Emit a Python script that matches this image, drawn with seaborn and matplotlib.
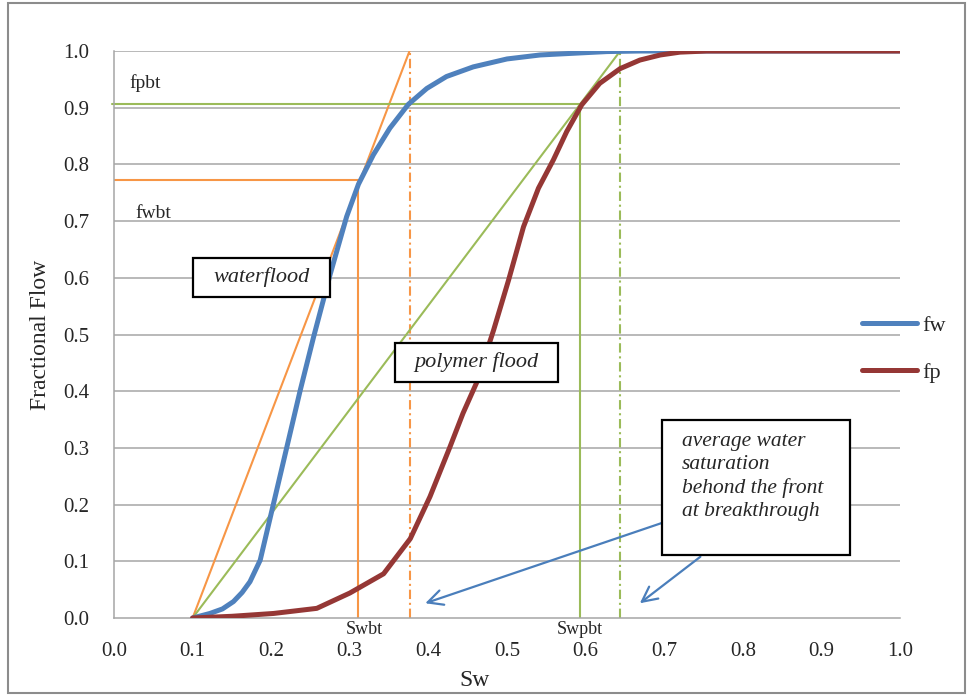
import numpy as np
import pandas as pd
import matplotlib
matplotlib.use("Agg")
import matplotlib.pyplot as plt
from matplotlib.patches import Rectangle
import seaborn as sns

# fractional flow curves
sw_w = [0.100, 0.122, 0.138, 0.152, 0.163, 0.173, 0.186, 0.203, 0.220, 0.237, 0.254,
        0.275, 0.296, 0.311, 0.330, 0.351, 0.3745, 0.398, 0.423, 0.457, 0.500, 0.542,
        0.584, 0.627, 0.669, 1.000]
fw = [0.0, 0.008, 0.016, 0.029, 0.045, 0.064, 0.102, 0.202, 0.302, 0.402, 0.496,
      0.606, 0.708, 0.765, 0.817, 0.864, 0.906, 0.934, 0.955, 0.972, 0.986, 0.993,
      0.996, 0.999, 1.0, 1.0]

sw_p = [0.100, 0.150, 0.203, 0.258, 0.300, 0.343, 0.377, 0.402, 0.4275, 0.444, 0.461,
        0.483, 0.502, 0.521, 0.540, 0.559, 0.576, 0.595, 0.618, 0.644, 0.669, 0.695,
        0.720, 0.754, 1.000]
fp = [0.0, 0.003, 0.008, 0.017, 0.044, 0.078, 0.140, 0.214, 0.302, 0.361, 0.414,
      0.508, 0.596, 0.690, 0.758, 0.808, 0.858, 0.905, 0.943, 0.969, 0.984, 0.993,
      0.998, 1.0, 1.0]

# breakthrough construction (Welge tangents)
swi = 0.1
swbt, fwbt, swavg_w = 0.311, 0.772, 0.376
swpbt, fpbt, swavg_p = 0.593, 0.907, 0.644

ticks = [round(0.1 * i, 1) for i in range(11)]

blue = "#4F81BD"
red = "#953735"
orange = "#F79646"
green = "#9BBB59"
arrow_blue = "#4A7EBB"
grid_gray = "#A6A6A6"

sns.set_theme(style="white")
plt.rcParams["font.family"] = ["Liberation Serif", "DejaVu Serif"]

df = pd.concat([
    pd.DataFrame({"Sw": sw_w, "f": fw, "curve": "fw"}),
    pd.DataFrame({"Sw": sw_p, "f": fp, "curve": "fp"}),
], ignore_index=True)

fig = plt.figure(figsize=(9.71, 6.95), dpi=100)
ax = fig.add_axes([0.1174, 0.1108, 0.8095, 0.8158])

# horizontal grid
for t in ticks[1:]:
    ax.axhline(t, color=grid_gray, lw=1.1, zorder=0)

dashdot = (0, (4.5, 1.8, 1, 1.8))

# orange: waterflood construction
ax.plot([swi, swavg_w], [0, 1.0], color=orange, lw=1.5, zorder=2)
ax.plot([0, swbt], [fwbt, fwbt], color=orange, lw=1.5, zorder=2)
ax.plot([swbt, swbt], [0, fwbt], color=orange, lw=1.5, zorder=2)
ax.plot([swavg_w, swavg_w], [0, 1.0], color=orange, lw=1.5, zorder=2, linestyle=dashdot)

# green: polymer flood construction
ax.plot([swi, swavg_p], [0, 1.0], color=green, lw=1.5, zorder=2)
ax.plot([-0.003, swpbt], [fpbt, fpbt], color=green, lw=1.5, zorder=2, clip_on=False)
ax.plot([swpbt, swpbt], [0, fpbt], color=green, lw=1.5, zorder=2)
ax.plot([swavg_p, swavg_p], [0, 1.0], color=green, lw=1.5, zorder=2, linestyle=dashdot)

sns.lineplot(data=df, x="Sw", y="f", hue="curve", hue_order=["fw", "fp"],
             palette={"fw": blue, "fp": red}, estimator=None, sort=False,
             lw=3.6, ax=ax, zorder=3, solid_capstyle="round", solid_joinstyle="round")

ax.set_xlim(0, 1)
ax.set_ylim(0, 1)
ax.set_xticks(ticks)
ax.set_yticks(ticks)
ax.set_xticklabels([f"{t:.1f}" for t in ticks], fontsize=15)
ax.set_yticklabels([f"{t:.1f}" for t in ticks], fontsize=15)
ax.tick_params(axis="x", direction="in", length=6, width=1.1, color=grid_gray, pad=17)
ax.tick_params(axis="y", length=0, pad=18)

for s in ["top", "right"]:
    ax.spines[s].set_visible(False)
for s in ["left", "bottom"]:
    ax.spines[s].set_color(grid_gray)
    ax.spines[s].set_linewidth(1.1)

ax.set_xlabel("Sw", fontsize=17)
ax.set_ylabel("Fractional Flow", fontsize=17)
ax.xaxis.set_label_coords(0.459, -0.092)
ax.yaxis.set_label_coords(-0.08, 0.499)

# labels of the construction
ax.text(0.02, 0.944, "fpbt", fontsize=14, va="center", ha="left")
ax.text(0.027, 0.714, "fwbt", fontsize=14, va="center", ha="left")
ax.text(0.318, -0.02, "Swbt", fontsize=13, va="center", ha="center")
ax.text(0.592, -0.021, "Swpbt", fontsize=13, va="center", ha="center")

# annotation boxes
box_kw = dict(facecolor="white", edgecolor="black", lw=1.6, zorder=5)
ax.add_patch(Rectangle((0.1005, 0.566), 0.1743, 0.069, **box_kw))
ax.text(0.1877, 0.6005, "waterflood", fontsize=16, style="italic",
        ha="center", va="center", zorder=6)
ax.add_patch(Rectangle((0.3575, 0.416), 0.2075, 0.069, **box_kw))
ax.text(0.461, 0.4506, "polymer flood", fontsize=16, style="italic",
        ha="center", va="center", zorder=6)

arrow_kw = dict(arrowstyle="->,head_length=0.9,head_width=0.45", color=arrow_blue, lw=1.6,
                shrinkA=0, shrinkB=0)
ax.annotate("", xy=(0.396, 0.026), xytext=(0.70, 0.169), arrowprops=arrow_kw, zorder=4)
ax.annotate("", xy=(0.669, 0.026), xytext=(0.746, 0.108), arrowprops=arrow_kw, zorder=4)

ax.add_patch(Rectangle((0.697, 0.111), 0.239, 0.238, **box_kw))
ax.text(0.7226, 0.328, "average water\nsaturation\nbehond the front\nat breakthrough",
        fontsize=15.5, style="italic", ha="left", va="top", linespacing=1.27, zorder=6)

# legend on the right
leg = ax.legend(loc="center left", bbox_to_anchor=(0.888, 0.498), bbox_transform=fig.transFigure,
                frameon=False, fontsize=16, labelspacing=1.2, handlelength=2.45,
                handletextpad=0.25, borderpad=0, borderaxespad=0)
for h in leg.get_lines():
    h.set_linewidth(3.6)

# chart border
fig.patches.append(Rectangle((8 / 971, 2 / 695), 957 / 971, 690 / 695, transform=fig.transFigure,
                             fill=False, edgecolor="#8C8C8C", lw=1.5))

fig.savefig("out.png", dpi=100)
